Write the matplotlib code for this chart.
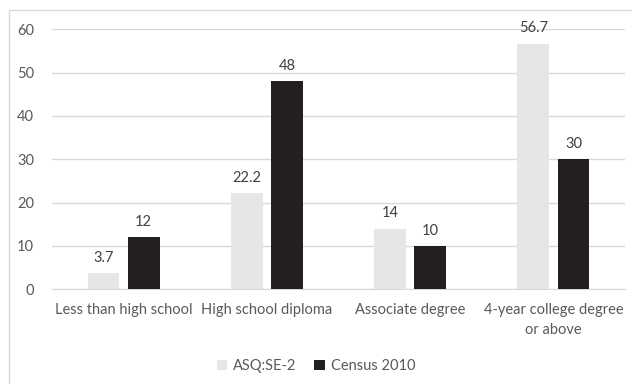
import matplotlib.pyplot as plt
from matplotlib.patches import Rectangle
import numpy as np

categories = ["Less than high school", "High school diploma",
              "Associate degree", "4-year college degree\nor above"]
asq = [3.7, 22.2, 14, 56.7]
census = [12, 48, 10, 30]
series_names = ["ASQ:SE-2", "Census 2010"]

plt.rcParams['font.family'] = ['Lato', 'DejaVu Sans']

fig = plt.figure(figsize=(6.32, 3.84), dpi=100)
ax = fig.add_axes([52 / 632, 1 - 289.3 / 384, (625 - 52) / 632, (289.3 - 29.3) / 384])

# chart frame
fig.patches.append(Rectangle((9 / 632, -0.1), 1.0, 1 - 10 / 384 + 0.1,
                             transform=fig.transFigure, fill=False,
                             edgecolor='#d9d9d9', linewidth=1.0))

x = np.arange(len(categories))
w = 0.222
off = 0.14
light = '#e7e6e6'
dark = '#231f20'
b1 = ax.bar(x - off, asq, width=w, color=light, label=series_names[0], zorder=3)
b2 = ax.bar(x + off, census, width=w, color=dark, label=series_names[1], zorder=3)

for bars, vals in [(b1, asq), (b2, census)]:
    for r, v in zip(bars, vals):
        ax.annotate(f"{v:g}", (r.get_x() + r.get_width() / 2, v),
                    xytext=(0, 6), textcoords='offset points',
                    ha='center', va='bottom', fontsize=10.5, color='#404040')

ax.set_xlim(-0.5, 3.5)
ax.set_ylim(0, 60)
ax.set_yticks(range(0, 61, 10))
ax.set_xticks(x)
ax.set_xticklabels(categories, fontsize=10.5, color='#595959', linespacing=1.5)
ax.tick_params(axis='y', labelsize=10.5, labelcolor='#595959', length=0, pad=13)
ax.tick_params(axis='x', length=0, pad=10)
ax.grid(axis='y', color='#d9d9d9', linewidth=1.0, zorder=0)
for s in ['top', 'right', 'left']:
    ax.spines[s].set_visible(False)
ax.spines['bottom'].set_color('#d9d9d9')

fig.legend(loc='center', bbox_to_anchor=(316 / 632, 1 - 366 / 384), ncol=2,
           frameon=False, fontsize=10.5, labelcolor='#595959',
           handlelength=0.75, handleheight=0.75, handletextpad=0.4,
           columnspacing=1.2)

fig.savefig("out.png", dpi=100)
